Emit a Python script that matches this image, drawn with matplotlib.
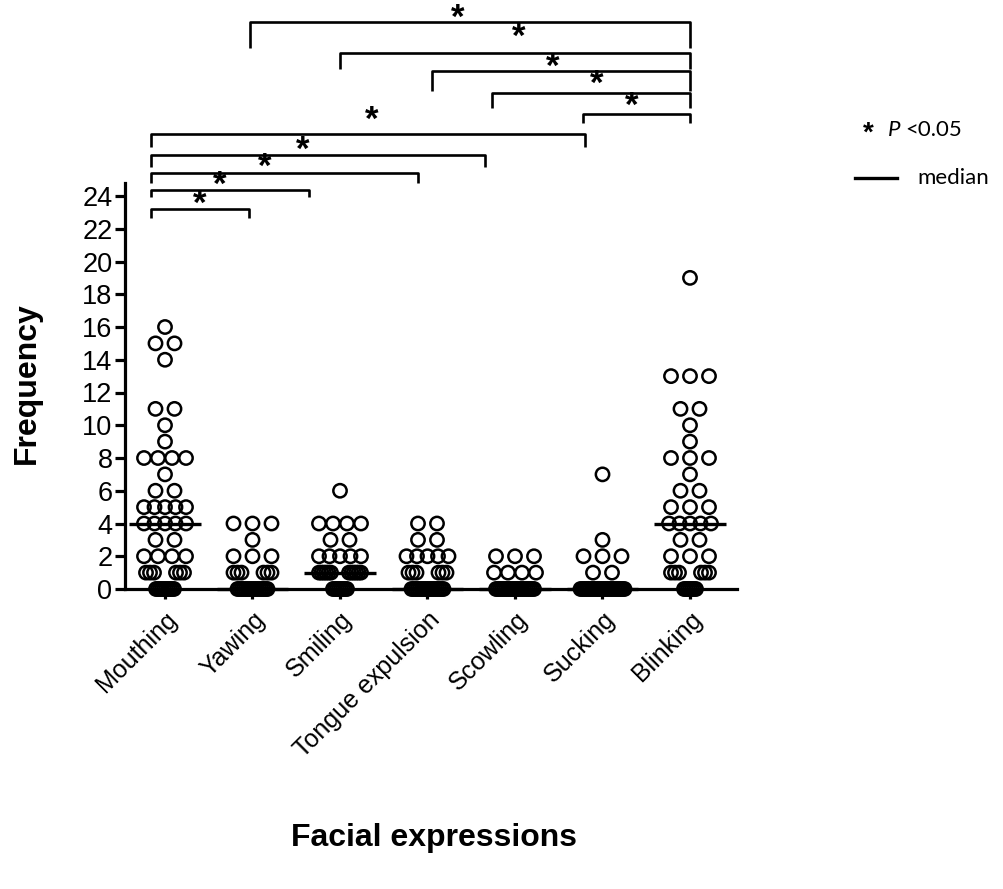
import numpy as np
import matplotlib
matplotlib.use("Agg")
import matplotlib.pyplot as plt
from matplotlib.lines import Line2D

plt.rcParams['font.family'] = ['Liberation Sans', 'DejaVu Sans']

# ---------------- data (value levels and how many infants at each) -------------
categories = ["Mouthing", "Yawing", "Smiling", "Tongue expulsion",
              "Scowling", "Sucking", "Blinking"]

mouthing_values = [16, 15, 14, 11, 10, 9, 8, 7, 6, 5, 4, 3, 2, 1, 0]
mouthing_counts = [1, 2, 1, 2, 1, 1, 4, 1, 2, 5, 5, 2, 4, 6, 10]

yawing_values = [4, 3, 2, 1, 0]
yawing_counts = [3, 1, 3, 6, 16]

smiling_values = [6, 4, 3, 2, 1, 0]
smiling_counts = [1, 4, 2, 5, 12, 8]

tongue_values = [4, 3, 2, 1, 0]
tongue_counts = [2, 2, 5, 6, 17]

scowling_values = [2, 1, 0]
scowling_counts = [3, 4, 20]

sucking_values = [7, 3, 2, 1, 0]
sucking_counts = [1, 1, 3, 2, 24]

blinking_values = [19, 13, 11, 10, 9, 8, 7, 6, 5, 4, 3, 2, 1, 0]
blinking_counts = [1, 3, 2, 1, 1, 3, 1, 2, 3, 5, 2, 3, 6, 7]

groups = [
    (mouthing_values, mouthing_counts),
    (yawing_values, yawing_counts),
    (smiling_values, smiling_counts),
    (tongue_values, tongue_counts),
    (scowling_values, scowling_counts),
    (sucking_values, sucking_counts),
    (blinking_values, blinking_counts),
]

# significant pairwise comparisons (annotation layout in axis units)
# (x_left, x_right, y_bar, y_tick_bottom, x_star, y_star)
brackets = [
    (0.971, 6.0, 34.63, 33.04, 3.349, 35.11),
    (2.0, 6.0, 32.73, 31.76, 4.046, 33.95),
    (3.051, 6.0, 31.63, 30.41, 4.434, 32.12),
    (3.737, 6.0, 30.29, 29.37, 4.937, 31.08),
    (4.777, 6.0, 29.01, 28.46, 5.337, 29.74),
    (-0.16, 4.8, 27.79, 26.99, 2.366, 28.89),
    (-0.16, 3.657, 26.50, 25.77, 1.577, 27.05),
    (-0.16, 2.891, 25.40, 24.79, 1.143, 26.02),
    (-0.16, 1.646, 24.37, 23.94, 0.629, 24.92),
    (-0.16, 0.96, 23.21, 22.66, 0.400, 23.76),
]

# ---------------- layout -------------------------------------------------------
W, H = 1004, 889
PX_PER_CAT = 87.5
fig = plt.figure(figsize=(W / 100, H / 100), dpi=100)
ax = fig.add_axes([125 / W, 300 / H, 612 / W, 406 / H])
x_left = (125 - 165) / PX_PER_CAT
ax.set_xlim(x_left, x_left + 612 / PX_PER_CAT)
ax.set_ylim(0, 406 / 16.375)


def row_offsets(n, value):
    """Horizontal offsets (pixels) for n tied points, Prism-like scatter."""
    if n == 1:
        return np.array([0.0])
    if value == 0:
        span = min(2.0 * (n - 1), 44.0)
        return np.linspace(-span / 2, span / 2, n)
    if n >= 6:
        m1 = n // 2
        m2 = n - m1
        out = []
        for m, c in ((m1, -15.0), (m2, 15.0)):
            span = min(4.0 * (m - 1), 12.0)
            out.extend(np.linspace(c - span / 2, c + span / 2, m) if m > 1 else [c])
        return np.array(out)
    span = min(19.0 * (n - 1), 42.0)
    return np.linspace(-span / 2, span / 2, n)


for i, (vals, cnts) in enumerate(groups):
    xs, ys = [], []
    for v, c in zip(vals, cnts):
        offs = row_offsets(c, v) / PX_PER_CAT
        xs.extend(i + offs)
        ys.extend([v] * c)
    ax.scatter(xs, ys, s=92, facecolors='none', edgecolors='black',
               linewidths=1.8, clip_on=False, zorder=3)
    med = np.median(np.repeat(vals, cnts))
    ax.hlines(med, i - 0.41, i + 0.41, colors='black', linewidth=2.4,
              zorder=4, clip_on=False)

# axes styling
for s in ['top', 'right']:
    ax.spines[s].set_visible(False)
for s in ['left', 'bottom']:
    ax.spines[s].set_linewidth(2.3)
ax.set_yticks(np.arange(0, 25, 2))
ax.set_xticks(range(len(categories)))
ax.set_xticklabels(categories, rotation=45, ha='right', va='top',
                   rotation_mode='anchor', fontsize=18)
ax.tick_params(axis='y', direction='out', length=7, width=2.3, labelsize=19.5, pad=2)
ax.tick_params(axis='x', direction='out', length=7, width=2.3, pad=6)

# brackets
for xl, xr, yb, yt, xs_, ys_ in brackets:
    ax.plot([xl, xl, xr, xr], [yt, yb, yb, yt], color='black', lw=1.9,
            clip_on=False, solid_capstyle='butt')
    ax.text(xs_, ys_ - 0.25, '*', ha='center', va='center', fontsize=25,
            fontweight='bold', clip_on=False)

# axis titles
fig.text(27 / W, 1 - 383 / H, 'Frequency', rotation=90, ha='center',
         va='center', fontsize=23, fontweight='bold')
fig.text(434 / W, 1 - 838 / H, 'Facial expressions', ha='center',
         va='center', fontsize=23, fontweight='bold')

# legend
fig.text(868 / W, 1 - 134 / H, '*', ha='center', va='center', fontsize=20,
         fontweight='bold')
fig.text(888 / W, 1 - 130 / H, 'P', ha='left', va='center', fontsize=16,
         style='italic', family='Lato')
fig.text(905 / W, 1 - 130 / H, '<0.05', ha='left', va='center', fontsize=16,
         family='Lato')
fig.add_artist(Line2D([855 / W, 897 / W], [1 - 178 / H, 1 - 178 / H],
                      color='black', lw=2.4, transform=fig.transFigure))
fig.text(917 / W, 1 - 178 / H, 'median', ha='left', va='center', fontsize=16,
         family='Lato')

fig.savefig('out.png', dpi=100)
